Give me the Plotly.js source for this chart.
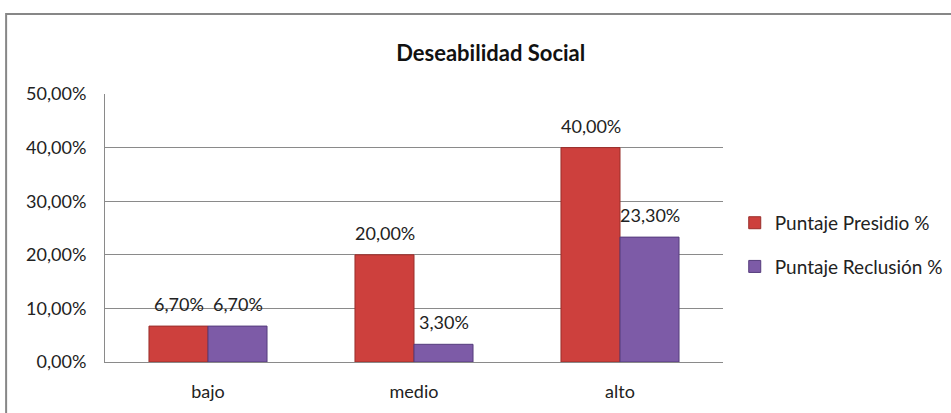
<!DOCTYPE html>
<html>
<head>
<meta charset="utf-8">
<script src="https://cdn.plot.ly/plotly-3.0.1.min.js"></script>
<style>html,body{margin:0;padding:0;background:#fff;}#chart{width:951px;height:413px;}</style>
</head>
<body>
<div id="chart"></div>
<script>
const categories = ["bajo", "medio", "alto"];
const seriesNames = ["Puntaje Presidio %", "Puntaje Reclusión %"];
const presidio = [0.067, 0.20, 0.40];
const reclusion = [0.067, 0.033, 0.233];
const yTicks = [0, 0.1, 0.2, 0.3, 0.4, 0.5];

const FONT = "Lato, 'Open Sans', sans-serif";
const colors = ["#CD403D", "#7D5BA7"];
const lineColors = ["#9A2E2B", "#553C7C"];

const series = [presidio, reclusion];
const traces = series.map((vals, j) => ({
  type: "bar",
  name: seriesNames[j],
  legendgroup: "g" + j,
  x: categories,
  y: vals,
  marker: {color: colors[j], line: {color: lineColors[j], width: 1}},
  hoverinfo: "skip"
}));

const fmt = v => (v * 100).toFixed(2).replace(".", ",") + "%";
const annotations = [];
series.forEach((vals, j) => {
  vals.forEach((v, i) => {
    annotations.push({
      x: categories[i], y: v, xref: "x", yref: "y",
      text: fmt(v), showarrow: false,
      xshift: j === 0 ? -29.5 : 29.5, yshift: 22,
      font: {family: FONT, size: 18, color: "#222"}
    });
  });
});

const layout = {
  width: 951, height: 413,
  margin: {l: 105, r: 228, t: 94, b: 51, autoexpand: false},
  paper_bgcolor: "#fff", plot_bgcolor: "#fff",
  separators: ",.",
  barmode: "group",
  bargap: 0.427, bargroupgap: 0,
  font: {family: FONT, size: 18, color: "#222"},
  title: {text: "<b>Deseabilidad Social</b>", x: 0.516, xanchor: "center", y: 0.872, yanchor: "middle",
          font: {family: FONT, size: 22, color: "#111"}},
  xaxis: {type: "category", showgrid: false, showline: true, linecolor: "#8a8a8a", linewidth: 1,
          ticks: "", ticklabelstandoff: 13, tickfont: {family: FONT, size: 18, color: "#222"}, fixedrange: true},
  yaxis: {range: [0, 0.5], tickvals: yTicks, tickformat: ".2%", showgrid: true, gridcolor: "#8a8a8a", gridwidth: 1,
          showline: true, linecolor: "#8a8a8a", linewidth: 1, zeroline: false, ticks: "", ticklabelstandoff: 14,
          tickfont: {family: FONT, size: 18, color: "#222"}, fixedrange: true},
  legend: {x: 1.019, xanchor: "left", y: 0.437, yanchor: "middle", font: {family: FONT, size: 19, color: "#222"},
           tracegroupgap: 16, itemwidth: 30, bgcolor: "rgba(0,0,0,0)"},
  annotations: annotations,
  shapes: [{type: "rect", xref: "paper", yref: "paper", x0: -0.160, x1: 1.40, y0: -0.25, y1: 1.2985,
            line: {color: "#878787", width: 2}, fillcolor: "rgba(0,0,0,0)", layer: "below"}],
  showlegend: true
};

Plotly.newPlot("chart", traces, layout, {displayModeBar: false, staticPlot: true});
</script>
</body>
</html>
